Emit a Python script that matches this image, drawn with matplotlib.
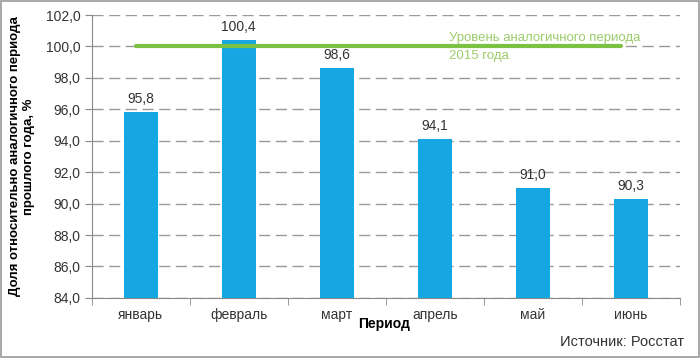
import matplotlib.pyplot as plt
import numpy as np
from matplotlib.patches import Rectangle

months = ['январь', 'февраль', 'март', 'апрель', 'май', 'июнь']
values = [95.8, 100.4, 98.6, 94.1, 91.0, 90.3]
level_2015 = 100.0
yticks = np.arange(84, 102.1, 2)

plt.rcParams['font.family'] = ['Liberation Sans', 'DejaVu Sans']

fig = plt.figure(figsize=(7, 3.58), dpi=100)
ax = fig.add_axes([0.131, 0.168, 0.84, 0.79])

x = np.arange(len(months))
ax.bar(x, values, width=0.35, color='#16a7e3', zorder=3)
for xi, v in zip(x, values):
    ax.text(xi, v + 0.4, f'{v:.1f}'.replace('.', ','), ha='center', va='bottom',
            fontsize=10, color='#333333')

ax.plot([-0.05, 4.9], [level_2015, level_2015], color='#7cc242', lw=3, zorder=4,
        solid_capstyle='round')
ax.text(3.15, 99.95, 'Уровень аналогичного периода\n2015 года', color='#9ccc6a',
        fontsize=9.5, va='center', ha='left', linespacing=1.65, zorder=2)

ax.set_xlim(-0.5, 5.5)
ax.set_ylim(84, 102)
ax.set_yticks(yticks)
ax.set_yticklabels([f'{t:.1f}'.replace('.', ',') for t in yticks], fontsize=10,
                   color='#333333')
ax.set_xticks(x)
ax.set_xticklabels(months, fontsize=10, color='#333333')
ax.tick_params(axis='x', length=0, pad=7)
ax.set_xticks(np.arange(-0.5, 6, 1), minor=True)
ax.tick_params(axis='x', which='minor', length=5, color='#888888')
ax.tick_params(axis='y', length=5, color='#888888', pad=3)

ax.yaxis.grid(True, linestyle=(0, (8, 4)), color='#999999', lw=1, zorder=0)
for s in ['top', 'right']:
    ax.spines[s].set_visible(False)
for s in ['left', 'bottom']:
    ax.spines[s].set_color('#888888')

ax.set_ylabel('Доля относительно аналогичного периода\nпрошлого года, %',
              fontsize=9.5, fontweight='bold', labelpad=8, linespacing=1.2)
fig.text(0.549, 0.095, 'Период', fontsize=10, fontweight='bold', ha='center',
         va='center')
fig.text(0.977, 0.045, 'Источник: Росстат', fontsize=10.5, ha='right', va='center',
         color='#333333')

fig.patches.append(Rectangle((0.002, 0.004), 0.996, 0.992, transform=fig.transFigure,
                             fill=False, edgecolor='#999999', lw=1.2))

plt.savefig('out.png', dpi=100)
plt.close()
